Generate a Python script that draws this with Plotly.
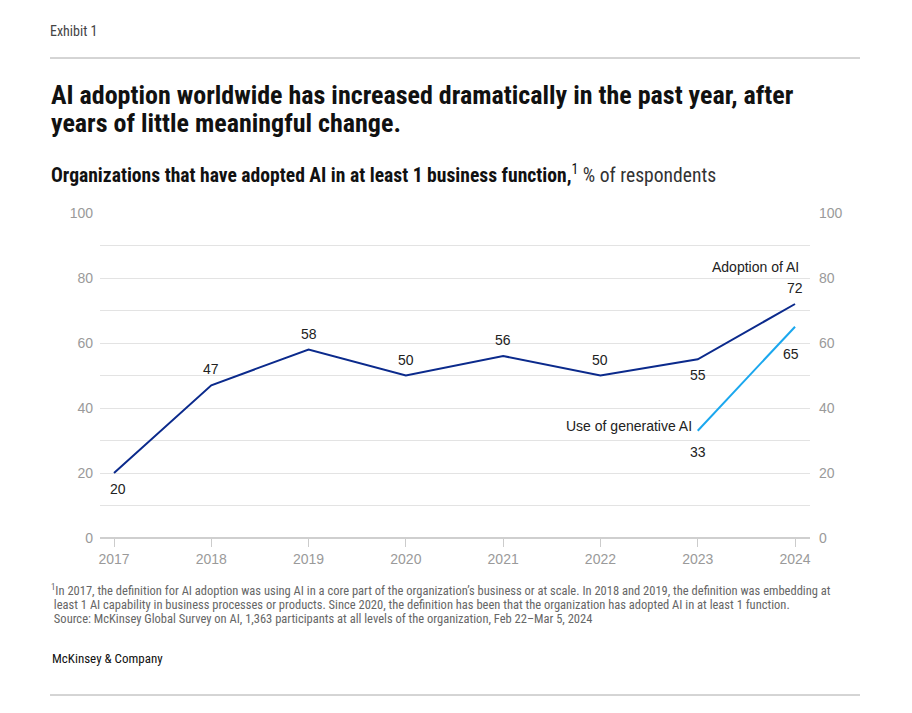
import plotly.graph_objects as go

years = [2017, 2018, 2019, 2020, 2021, 2022, 2023, 2024]
adoption = [20, 47, 58, 50, 56, 50, 55, 72]
genai_years = [2023, 2024]
genai = [33, 65]
y_ticks = [0, 20, 40, 60, 80, 100]

NAVY = "#0b2a8c"
SKY = "#1aa7ee"
FONT = "Liberation Sans Narrow, Roboto Condensed, Liberation Sans, Arial, sans-serif"
BODY = "Liberation Sans, Arial, sans-serif"

fig = go.Figure()
fig.add_trace(go.Scatter(x=years, y=adoption, mode="lines",
                         line=dict(color=NAVY, width=2), hoverinfo="skip"))
fig.add_trace(go.Scatter(x=genai_years, y=genai, mode="lines",
                         line=dict(color=SKY, width=2), hoverinfo="skip"))
# invisible trace for right axis
fig.add_trace(go.Scatter(x=[years[0]], y=[0], yaxis="y2", mode="markers",
                         marker=dict(opacity=0), hoverinfo="skip"))

# page has an 8px body margin; figure placed at (8, 8)
OFF = 8
W, H = 896, 697
PL, PR, PT, PB = 100, 810, 213, 538  # plot area in page pixels
fig.update_layout(
    width=W, height=H,
    margin=dict(l=PL - OFF, r=W + OFF - PR, t=PT - OFF, b=H + OFF - PB),
    paper_bgcolor="white", plot_bgcolor="white",
    showlegend=False,
    font=dict(family=BODY, color="#222"),
    xaxis=dict(range=[2016.856, 2024.154], tickvals=years,
               ticktext=[str(y) for y in years],
               showgrid=False, zeroline=False,
               showline=False, ticks="outside", ticklen=8, tickwidth=1,
               tickcolor="#cccccc",
               tickfont=dict(size=14, color="#9a9a9a", family=BODY)),
    yaxis=dict(range=[0, 100], tickvals=y_ticks, showgrid=True,
               gridcolor="#e3e3e3", gridwidth=1, zeroline=True,
               zerolinecolor="#cfcfcf", zerolinewidth=2,
               minor=dict(dtick=10, tick0=0, showgrid=True, gridcolor="#e3e3e3"),
               tickfont=dict(size=14, color="#9a9a9a", family=BODY),
               ticklabelstandoff=6, fixedrange=True),
    yaxis2=dict(range=[0, 100], tickvals=y_ticks, overlaying="y", side="right",
                showgrid=False, zeroline=False,
                tickfont=dict(size=14, color="#9a9a9a", family=BODY),
                ticklabelstandoff=8),
)

# data labels
label_pos = {2017: -1, 2018: 1, 2019: 1, 2020: 1, 2021: 1, 2022: 1, 2023: -1, 2024: 1}
anns = []
for x, v in zip(years, adoption):
    up = label_pos[x] > 0
    anns.append(dict(x=x, y=v, xref="x", yref="y", text=str(v), showarrow=False,
                     xshift=4 if x == 2017 else 0,
                     yshift=16 if up else -16,
                     font=dict(size=14, color="#222", family=BODY)))
anns.append(dict(x=2024, y=72, xref="x", yref="y", text="Adoption of AI",
                 showarrow=False, xanchor="right", xshift=6, yshift=37,
                 font=dict(size=14, color="#222", family=BODY)))
anns.append(dict(x=2023, y=33, xref="x", yref="y", text="33", showarrow=False,
                 yshift=-21, font=dict(size=14, color="#222", family=BODY)))
anns.append(dict(x=2024, y=65, xref="x", yref="y", text="65", showarrow=False,
                 xshift=-4, yshift=-27, font=dict(size=14, color="#222", family=BODY)))
anns.append(dict(x=2023, y=33, xref="x", yref="y", text="Use of generative AI",
                 showarrow=False, xanchor="right", xshift=-4, yshift=5,
                 font=dict(size=14, color="#222", family=BODY)))

# header / footer text, positioned by page pixels relative to the plot area
def px(xp, yp):
    return (xp - PL) / (PR - PL), (PB - yp) / (PB - PT)

def ptext(text, xp, yp, size, color="#222", family=BODY, anchor="left"):
    x, y = px(xp, yp)
    anns.append(dict(x=x, y=y, xref="paper", yref="paper", text=text,
                     showarrow=False, xanchor=anchor, yanchor="middle",
                     font=dict(size=size, color=color, family=family)))

ptext("Exhibit 1", 48, 31, 14, "#444", FONT)
ptext("<b>AI adoption worldwide has increased dramatically in the past year, after</b>", 49, 95, 26, "#111", FONT)
ptext("<b>years of little meaningful change.</b>", 49, 123, 26, "#111", FONT)
ptext("<b>Organizations that have adopted AI in at least 1 business function,</b><sup>1</sup> <span style='color:#333'>% of respondents</span>",
      49, 174, 19.6, "#111", FONT)
foot = [
    "<sup>1</sup>In 2017, the definition for AI adoption was using AI in a core part of the organization\u2019s business or at scale. In 2018 and 2019, the definition was embedding at",
    " least 1 AI capability in business processes or products. Since 2020, the definition has been that the organization has adopted AI in at least 1 function.",
    " Source: McKinsey Global Survey on AI, 1,363 participants at all levels of the organization, Feb 22\u2013Mar 5, 2024",
]
for i, t in enumerate(foot):
    ptext(t, 49, 590 + i * 14, 12.5, "#666", FONT)
ptext("McKinsey & Company", 50, 658, 13, "#111", FONT)

fig.update_layout(annotations=anns)

# rules
for yp in (58, 695):
    x0, y0 = px(50, yp)
    x1, _ = px(860, yp)
    fig.add_shape(type="line", xref="paper", yref="paper",
                  x0=x0, x1=x1, y0=y0, y1=y0,
                  line=dict(color="#aaaaaa", width=1))

fig.write_html("out.html", config={"displayModeBar": False})
